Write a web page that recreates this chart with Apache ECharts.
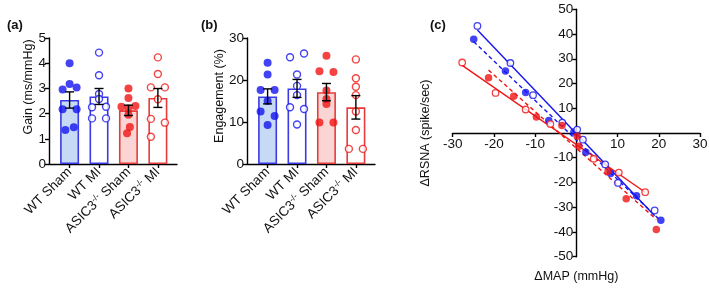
<!DOCTYPE html>
<html>
<head>
<meta charset="utf-8">
<script src="https://cdn.jsdelivr.net/npm/echarts@6/dist/echarts.min.js"></script>
<style>
  html, body { margin: 0; padding: 0; background: #fff; }
  #chart { width: 709px; height: 288px; }
</style>
</head>
<body>
<div id="chart"></div>
<script>
// groups
var groups = ["WT Sham", "WT MI", "ASIC3-/- Sham", "ASIC3-/- MI"];

// (a) baroreflex gain, ms/mmHg
var gainWtSham = [4.0, 2.96, 3.17, 3.04, 2.17, 2.17, 1.35, 1.46];
var gainWtMi = [4.42, 3.52, 2.78, 2.58, 2.25, 2.27, 1.81, 1.81];
var gainKoSham = [3.0, 2.62, 2.27, 2.2, 2.3, 1.95, 1.47, 1.22];
var gainKoMi = [4.23, 3.57, 3.04, 3.04, 2.57, 1.79, 1.64, 1.08];
var gainTicks = [0, 1, 2, 3, 4, 5];

// (b) engagement, %
var engWtSham = [24.1, 21.3, 17.6, 17.6, 15.0, 12.5, 11.4, 9.3];
var engWtMi = [25.4, 26.3, 21.3, 18.6, 16.4, 13.5, 13.1, 9.4];
var engKoSham = [25.8, 22.1, 21.9, 17.5, 15.5, 14.3, 9.9, 9.9];
var engKoMi = [24.9, 20.4, 18.4, 16.4, 12.5, 8.1, 3.6, 3.6];
var engTicks = [0, 10, 20, 30];

// (c) dMAP (mmHg) vs dRSNA (spike/sec)
var mapWtSham = [-24.9, -17.2, -12.3, -6.7, -0.6, 2.3, 8.3, 14.6, 20.5];
var rsnaWtSham = [37.9, 25.1, 16.4, 5.1, 0.4, -7.8, -16.4, -25.4, -35.3];
var mapWtMi = [-24.0, -16.0, -10.5, -3.4, 0.2, 1.6, 7.0, 10.1, 19.0];
var rsnaWtMi = [43.3, 28.3, 15.3, 4.2, 1.4, -2.7, -12.7, -20.2, -31.3];
var mapKoSham = [-21.3, -15.2, -9.7, -3.5, 0.2, 0.6, 7.7, 12.1, 19.4];
var rsnaKoSham = [22.3, 14.9, 6.5, 3.0, -1.3, -5.4, -15.5, -26.6, -39.0];
var mapKoMi = [-27.7, -19.6, -12.3, -6.3, 4.2, 10.3, 16.7];
var rsnaKoMi = [28.5, 16.2, 9.5, 3.6, -10.4, -16.0, -23.9];
var mapTicks = [-30, 30];
var rsnaTicks = [-50, 50];

// horizontal spread of the dots (in dot widths), layout only
var spreadGain = [
  [0, -1, 0, 1, -1, 1, -0.6, 0.6],
  [0, 0, 0, 0, -1, 1, -1, 1],
  [0, 0, -1, 0, 1, 0, 0.2, -0.2],
  [0, 0, -1, 1, 0, -1, 1, -1]
];
var spreadEng = [
  [0, 0, -1, 1, 0, -1, 1, 0],
  [-1, 1, 0, 0, 0, -1, 1, 0],
  [0, -1, 1, 0, 0, 0, -1, 1],
  [0, 0, 0, 0, 0, 0, -1, 1]
];

var BLUE = "#1414f0";
var RED = "#f01414";
var BLUE_EDGE = "#3a3ae6";
var RED_EDGE = "#e63c3c";
var barFill = ["#c6daf6", "#ffffff", "#fbd4d4", "#ffffff"];
var barEdge = [BLUE_EDGE, BLUE_EDGE, RED_EDGE, RED_EDGE];
var dotColor = [BLUE, BLUE, RED, RED];
var dotFilled = [true, false, true, false];
var FONT = "Liberation Sans, Arial, sans-serif";

function mean(a) {
  var s = 0;
  for (var i = 0; i < a.length; i++) s += a[i];
  return s / a.length;
}
function sem(a) {
  var m = mean(a), s = 0;
  for (var i = 0; i < a.length; i++) s += (a[i] - m) * (a[i] - m);
  return Math.sqrt(s / (a.length - 1)) / Math.sqrt(a.length);
}
function fit(xs, ys) {
  var mx = mean(xs), my = mean(ys), sxy = 0, sxx = 0;
  for (var i = 0; i < xs.length; i++) {
    sxy += (xs[i] - mx) * (ys[i] - my);
    sxx += (xs[i] - mx) * (xs[i] - mx);
  }
  var b = sxy / sxx, a = my - b * mx;
  var x0 = Math.min.apply(null, xs), x1 = Math.max.apply(null, xs);
  return [[x0, a + b * x0], [x1, a + b * x1]];
}
function pairs(xs, ys) {
  return xs.map(function (x, i) { return [x, ys[i]]; });
}

function groupLabel(v) {
  var name = groups[Math.round(v)] || "";
  if (name.indexOf("ASIC3-/-") === 0) {
    return "{t|ASIC3}{s|-/-}{t|" + name.slice(8) + "}";
  }
  return "{t|" + name + "}";
}

function renderErr(params, api) {
  var x = api.value(0);
  var lo = api.coord([x, api.value(2)]);
  var hi = api.coord([x, api.value(3)]);
  var c = 4.5;
  var st = { stroke: "#000", lineWidth: 1.4 };
  return {
    type: "group",
    children: [
      { type: "line", shape: { x1: lo[0], y1: lo[1], x2: hi[0], y2: hi[1] }, style: st },
      { type: "line", shape: { x1: lo[0] - c, y1: lo[1], x2: lo[0] + c, y2: lo[1] }, style: st },
      { type: "line", shape: { x1: hi[0] - c, y1: hi[1], x2: hi[0] + c, y2: hi[1] }, style: st }
    ]
  };
}

// bars + error bars + dots for one bar panel
function barPanel(idx, sets, spread) {
  var bars = [], errs = [], out = [];
  sets.forEach(function (vals, g) {
    var m = mean(vals), e = sem(vals);
    bars.push({ value: [g, m], itemStyle: { color: barFill[g], borderColor: barEdge[g] } });
    errs.push([g, m, m - e, m + e]);
  });
  out.push({
    type: "bar", xAxisIndex: idx, yAxisIndex: idx, barWidth: 19,
    itemStyle: { borderWidth: 1.6 }, data: bars, z: 2
  });
  sets.forEach(function (vals, g) {
    out.push({
      type: "scatter", xAxisIndex: idx, yAxisIndex: idx,
      symbolSize: dotFilled[g] ? 8 : 7,
      itemStyle: dotFilled[g]
        ? { color: dotColor[g] }
        : { color: "#fff", borderColor: dotColor[g], borderWidth: 1.4 },
      data: vals.map(function (v, k) {
        return { value: [g, v], symbolOffset: [spread[g][k] * 7, 0] };
      }),
      z: 3
    });
  });
  out.push({
    type: "custom", xAxisIndex: idx, yAxisIndex: idx,
    renderItem: renderErr, data: errs, z: 4
  });
  return out;
}

var catXAxis = function (idx) {
  return {
    type: "value", gridIndex: idx, min: -0.7, max: 3.65,
    axisLine: { onZero: false, lineStyle: { color: "#000", width: 1.4 } },
    axisTick: { length: 4, customValues: [0, 1, 2, 3], lineStyle: { color: "#000", width: 1.4 } },
    axisLabel: {
      customValues: [0, 1, 2, 3], rotate: 45, margin: 6,
      formatter: groupLabel,
      rich: {
        t: { fontSize: 13.5, color: "#111", fontFamily: FONT, lineHeight: 16 },
        s: { fontSize: 8.5, color: "#111", fontFamily: FONT, verticalAlign: "top", lineHeight: 16 }
      }
    },
    splitLine: { show: false }
  };
};
var barYAxis = function (idx, ticks, name, gap, pad) {
  return {
    type: "value", gridIndex: idx, min: ticks[0], max: ticks[ticks.length - 1],
    interval: ticks[1] - ticks[0],
    name: name, nameLocation: "middle", nameGap: gap, nameMoveOverlap: false,
    nameTextStyle: { fontSize: 12.5, color: "#111", fontFamily: FONT, padding: [0, 0, 0, pad] },
    axisLine: { show: true, onZero: false, lineStyle: { color: "#000", width: 1.4 } },
    axisTick: { show: true, length: 4, lineStyle: { color: "#000", width: 1.4 } },
    axisLabel: { fontSize: 13.5, color: "#111", fontFamily: FONT, margin: 3 },
    splitLine: { show: false }
  };
};

var series = []
  .concat(barPanel(0, [gainWtSham, gainWtMi, gainKoSham, gainKoMi], spreadGain))
  .concat(barPanel(1, [engWtSham, engWtMi, engKoSham, engKoMi], spreadEng));

// (c) regression lines then points
var curves = [
  { xs: mapWtSham, ys: rsnaWtSham, color: BLUE, filled: true },
  { xs: mapWtMi, ys: rsnaWtMi, color: BLUE, filled: false },
  { xs: mapKoSham, ys: rsnaKoSham, color: RED, filled: true },
  { xs: mapKoMi, ys: rsnaKoMi, color: RED, filled: false }
];
curves.forEach(function (c) {
  series.push({
    type: "line", xAxisIndex: 2, yAxisIndex: 2, symbol: "none", silent: true,
    lineStyle: { color: c.color, width: 1.4, type: c.filled ? [4, 3] : "solid" },
    data: fit(c.xs, c.ys), z: 2
  });
});
curves.forEach(function (c) {
  series.push({
    type: "scatter", xAxisIndex: 2, yAxisIndex: 2,
    symbolSize: c.filled ? 7.5 : 6.5,
    itemStyle: c.filled
      ? { color: c.color }
      : { color: "#fff", borderColor: c.color, borderWidth: 1.3 },
    data: pairs(c.xs, c.ys), z: 3
  });
});

var hideZero = function (v) { return v === 0 ? "" : String(v); };

// panel (c): axes cross at zero, shift them into the middle of the grid
var gridC = { left: 452.7, top: 9.3, width: 247.3, height: 247.4 };
var xShift = -gridC.height * (0 - rsnaTicks[0]) / (rsnaTicks[1] - rsnaTicks[0]);
var yShift = -gridC.width * (0 - mapTicks[0]) / (mapTicks[1] - mapTicks[0]);

var myechart = echarts.init(document.getElementById("chart"), null, { renderer: "canvas" });
var titleStyle = { fontSize: 13, fontWeight: "bold", color: "#111", fontFamily: FONT };
var option = {
  backgroundColor: "#fff",
  animation: false,
  textStyle: { fontFamily: FONT },
  title: [
    { text: "(a)", left: 2, top: 14, textStyle: titleStyle },
    { text: "(b)", left: 196, top: 14, textStyle: titleStyle },
    { text: "(c)", left: 425, top: 14, textStyle: titleStyle }
  ],
  grid: [
    { left: 49, top: 38, width: 128, height: 126, containLabel: false, outerBoundsMode: "none" },
    { left: 247, top: 38, width: 128, height: 126, containLabel: false, outerBoundsMode: "none" },
    { left: gridC.left, top: gridC.top, width: gridC.width, height: gridC.height, containLabel: false, outerBoundsMode: "none" }
  ],
  xAxis: [
    catXAxis(0),
    catXAxis(1),
    {
      type: "value", gridIndex: 2, position: "bottom", offset: xShift,
      min: mapTicks[0], max: mapTicks[1], interval: 10,
      name: "\u0394MAP (mmHg)", nameLocation: "middle", nameGap: 137, nameMoveOverlap: false,
      nameTextStyle: { fontSize: 12.5, color: "#111", fontFamily: FONT },
      axisLine: { onZero: false, lineStyle: { color: "#000", width: 1.4 } },
      axisTick: { length: 4, lineStyle: { color: "#000", width: 1.4 } },
      axisLabel: { fontSize: 13.5, color: "#111", fontFamily: FONT, margin: 4, formatter: hideZero },
      splitLine: { show: false }
    }
  ],
  yAxis: [
    barYAxis(0, gainTicks, "Gain (ms/mmHg)", 14, 28),
    barYAxis(1, engTicks, "Engagement (%)", 21, 10),
    {
      type: "value", gridIndex: 2, position: "left", offset: yShift,
      min: rsnaTicks[0], max: rsnaTicks[1], interval: 10,
      name: "\u0394RSNA (spike/sec)", nameLocation: "middle", nameGap: 144, nameMoveOverlap: false,
      nameTextStyle: { fontSize: 12.5, color: "#111", fontFamily: FONT },
      axisLine: { show: true, onZero: false, lineStyle: { color: "#000", width: 1.4 } },
      axisTick: { show: true, length: 4, lineStyle: { color: "#000", width: 1.4 } },
      axisLabel: { fontSize: 13.5, color: "#111", fontFamily: FONT, margin: 3, formatter: hideZero },
      splitLine: { show: false }
    }
  ],
  series: series
};
myechart.setOption(option);
window.addEventListener("resize", function () {
  myechart.resize();
});
</script>
</body>
</html>
